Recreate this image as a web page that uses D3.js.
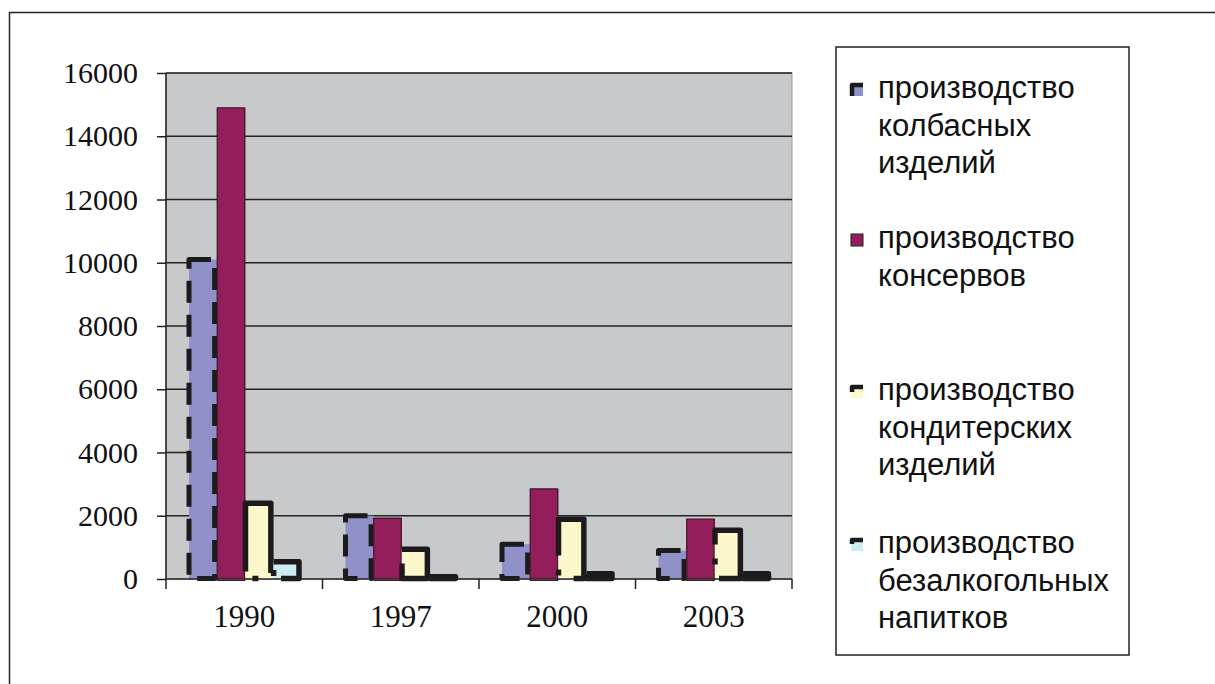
<!DOCTYPE html>
<html><head><meta charset="utf-8">
<script src="https://cdn.jsdelivr.net/npm/d3@7"></script>
<style>body{margin:0;background:#fff;}svg{display:block;}</style>
</head><body>
<svg id="c" width="1215" height="684"></svg>
<script>
const categories = ["1990", "1997", "2000", "2003"];
const seriesNames = [
  ["производство", "колбасных", "изделий"],
  ["производство", "консервов"],
  ["производство", "кондитерских", "изделий"],
  ["производство", "безалкогольных", "напитков"]
];
const sausages = [10100, 2000, 1100, 900];
const canned = [14900, 1930, 2850, 1900];
const confectionery = [2400, 950, 1900, 1550];
const softDrinks = [550, 80, 170, 170];
const yTicks = [0, 2000, 4000, 6000, 8000, 10000, 12000, 14000, 16000];

const series = [sausages, canned, confectionery, softDrinks];
const colors = ["#9191c9", "#941d5b", "#fcf8cc", "#ccecf1"];
const strokes = [
  {w: 5, dash: "22,12", shift: -2},
  {w: 1.2, dash: null, shift: 0},
  {w: 5.5, dash: "95,18,6,14", shift: -2},
  {w: 5.5, dash: "60,10,6,10", shift: -2}
];

const svg = d3.select("#c");
// outer border
svg.append("rect").attr("x", 9.5).attr("y", 12.5).attr("width", 1230).attr("height", 700)
  .attr("fill", "none").attr("stroke", "#222").attr("stroke-width", 1.5);

const L = 166, R = 792, T = 73, B = 579;
const x0 = d3.scaleBand().domain(categories).range([L, R]).padding(0);
const x1 = d3.scaleBand().domain(d3.range(series.length)).range([23, x0.bandwidth() - 21]).padding(0);
const y = d3.scaleLinear().domain([0, 16000]).range([B, T]);

// plot area
svg.append("rect").attr("x", L).attr("y", T).attr("width", R - L).attr("height", B - T)
  .attr("fill", "#c8c9cb").attr("stroke", "#9a9a9a").attr("stroke-width", 1);

// gridlines
svg.append("g").selectAll("line").data(yTicks.slice(1)).join("line")
  .attr("x1", L).attr("x2", R).attr("y1", d => y(d)).attr("y2", d => y(d))
  .attr("stroke", "#222").attr("stroke-width", 1.3);

// bars
const groups = svg.append("g").selectAll("g").data(categories).join("g")
  .attr("transform", c => `translate(${x0(c)},0)`);
groups.each(function(c, ci) {
  const g = d3.select(this);
  series.forEach((s, si) => {
    const bx = x1(si), bw = x1.bandwidth(), by = y(s[ci]), bh = B - y(s[ci]);
    g.append("rect").attr("x", bx).attr("y", by).attr("width", bw).attr("height", bh)
      .attr("fill", colors[si]);
    const st = strokes[si];
    const r = g.append("rect").attr("x", bx + st.shift + st.w / 2 - 0.5).attr("y", by + st.shift + st.w / 2 - 0.5)
      .attr("width", Math.max(bw - st.w / 2, 1)).attr("height", Math.max(bh - st.w / 2 + 2, 1))
      .attr("fill", "none").attr("stroke", si === 1 ? "#3a1a2a" : "#1c1a1d")
      .attr("stroke-width", st.w).attr("stroke-linejoin", "round");
    if (st.dash) r.attr("stroke-dasharray", st.dash);
  });
});

// y axis
const yAxis = d3.axisLeft(y).tickValues(yTicks).tickSize(9).tickPadding(19).tickFormat(d3.format("d"));
const ya = svg.append("g").attr("transform", `translate(${L},0)`).call(yAxis);
ya.select(".domain").attr("stroke", "#222").attr("stroke-width", 1.5).attr("d", `M0,${T}V${B}`);
ya.selectAll(".tick line").attr("stroke", "#222").attr("stroke-width", 1.5);
ya.selectAll(".tick text").attr("font-family", "Liberation Serif, serif").attr("font-size", 30).attr("fill", "#111");

// x axis
const xAxis = d3.axisBottom(x0).tickSize(0).tickPadding(26);
const xa = svg.append("g").attr("transform", `translate(0,${B})`).call(xAxis);
xa.select(".domain").attr("stroke", "#222").attr("stroke-width", 1.5).attr("d", `M${L},0H${R}`);
xa.selectAll(".tick text").attr("font-family", "Liberation Serif, serif").attr("font-size", 31).attr("fill", "#111");
const bounds = categories.map(c => x0(c)).concat([R]);
svg.append("g").selectAll("line").data(bounds).join("line")
  .attr("x1", d => d).attr("x2", d => d).attr("y1", B).attr("y2", B + 10)
  .attr("stroke", "#222").attr("stroke-width", 1.5);

// legend
svg.append("rect").attr("x", 836).attr("y", 47).attr("width", 293).attr("height", 608)
  .attr("fill", "#fff").attr("stroke", "#222").attr("stroke-width", 1.5);
const legendTops = [90, 240, 392, 545];
const lineH = 37.5;
seriesNames.forEach((lines, i) => {
  const ly = legendTops[i];
  svg.append("rect").attr("x", 851).attr("y", ly - 6).attr("width", 12).attr("height", 12).attr("fill", colors[i]);
  if (i === 1) {
    svg.append("rect").attr("x", 851).attr("y", ly - 6).attr("width", 12).attr("height", 12)
      .attr("fill", colors[i]).attr("stroke", "#222").attr("stroke-width", 1);
  } else {
    svg.append("path").attr("d", `M${852},${ly + (i === 0 ? 6 : i === 2 ? 0 : -1)}V${ly - 5}H${863}`)
      .attr("fill", "none").attr("stroke", "#1c1a1d").attr("stroke-width", 4.5)
      .attr("stroke-linejoin", "round");
  }
  const t = svg.append("text").attr("x", 878).attr("y", ly).attr("font-family", "Liberation Sans, Arial, sans-serif")
    .attr("font-size", 31).attr("fill", "#111").attr("dominant-baseline", "middle");
  lines.forEach((ln, k) => t.append("tspan").attr("x", 878).attr("y", ly + k * lineH).text(ln));
});
</script>
</body></html>
